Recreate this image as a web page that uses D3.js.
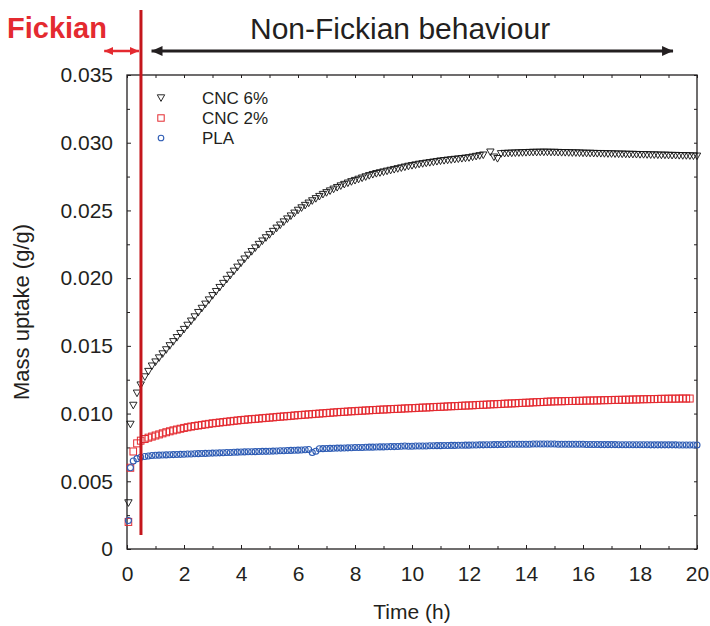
<!DOCTYPE html>
<html>
<head>
<meta charset="utf-8">
<script src="https://cdn.jsdelivr.net/npm/d3@7/dist/d3.min.js"></script>
<style>
  html, body { margin: 0; padding: 0; background: #fff; }
  svg { display: block; font-family: "Liberation Sans", Arial, sans-serif; }
</style>
</head>
<body>
<svg id="chart" width="710" height="626"></svg>
<script>
// Sorption time in hours (one row per hour)
const hours = [
  0.05, 0.12, 0.22, 0.35, 0.48, 0.625, 0.75, 0.875,
  1, 1.125, 1.25, 1.375, 1.5, 1.625, 1.75, 1.875,
  2, 2.125, 2.25, 2.375, 2.5, 2.625, 2.75, 2.875,
  3, 3.125, 3.25, 3.375, 3.5, 3.625, 3.75, 3.875,
  4, 4.125, 4.25, 4.375, 4.5, 4.625, 4.75, 4.875,
  5, 5.125, 5.25, 5.375, 5.5, 5.625, 5.75, 5.875,
  6, 6.125, 6.25, 6.375, 6.5, 6.625, 6.75, 6.875,
  7, 7.125, 7.25, 7.375, 7.5, 7.625, 7.75, 7.875,
  8, 8.125, 8.25, 8.375, 8.5, 8.625, 8.75, 8.875,
  9, 9.125, 9.25, 9.375, 9.5, 9.625, 9.75, 9.875,
  10, 10.125, 10.25, 10.375, 10.5, 10.625, 10.75, 10.875,
  11, 11.125, 11.25, 11.375, 11.5, 11.625, 11.75, 11.875,
  12, 12.125, 12.25, 12.375, 12.5, 12.625, 12.75, 12.875,
  13, 13.125, 13.25, 13.375, 13.5, 13.625, 13.75, 13.875,
  14, 14.125, 14.25, 14.375, 14.5, 14.625, 14.75, 14.875,
  15, 15.125, 15.25, 15.375, 15.5, 15.625, 15.75, 15.875,
  16, 16.125, 16.25, 16.375, 16.5, 16.625, 16.75, 16.875,
  17, 17.125, 17.25, 17.375, 17.5, 17.625, 17.75, 17.875,
  18, 18.125, 18.25, 18.375, 18.5, 18.625, 18.75, 18.875,
  19, 19.125, 19.25, 19.375, 19.5, 19.625, 19.75, 19.875,
  20
];

// Mass uptake (g/g), CNC 6 %
const cnc6 = [
  0.0034, 0.0092, 0.0106, 0.0115, 0.0121, 0.0127, 0.0131, 0.0135,
  0.0138, 0.0141, 0.0144, 0.0147, 0.0150, 0.0153, 0.0156, 0.0159,
  0.0162, 0.01651, 0.01682, 0.01713, 0.01745, 0.01776, 0.01807, 0.01838,
  0.0187, 0.0190, 0.0193, 0.0196, 0.0199, 0.0202, 0.0205, 0.0208,
  0.0211, 0.0214, 0.02168, 0.02195, 0.02222, 0.02248, 0.02273, 0.02297,
  0.0232, 0.02344, 0.02368, 0.02391, 0.02414, 0.02436, 0.02458, 0.02479,
  0.0250, 0.02518, 0.02536, 0.02553, 0.0257, 0.02586, 0.02602, 0.02617,
  0.0263, 0.02643, 0.02656, 0.02668, 0.0268, 0.02691, 0.02701, 0.02711,
  0.0272, 0.02729, 0.02738, 0.02747, 0.02756, 0.02764, 0.02771, 0.02777,
  0.02783, 0.02789, 0.02795, 0.02801, 0.02807, 0.02813, 0.02819, 0.02825,
  0.0283, 0.02835, 0.0284, 0.02844, 0.02848, 0.02852, 0.02856, 0.0286,
  0.02864, 0.02867, 0.0287, 0.02873, 0.02876, 0.02879, 0.02882, 0.02885,
  0.02888, 0.02893, 0.02898, 0.02903, 0.02908, null, 0.0293, 0.02893,
  0.02882, 0.02918, 0.0292, 0.02921, 0.02922, 0.02923, 0.02924, 0.02925,
  0.02926, 0.02927, 0.02928, 0.02928, 0.02929, 0.02929, 0.02929, 0.02928,
  0.02928, 0.02927, 0.02926, 0.02926, 0.02925, 0.02924, 0.02924, 0.02923,
  0.02922, 0.02921, 0.02921, 0.0292, 0.02919, 0.02919, 0.02918, 0.02917,
  0.02917, 0.02916, 0.02915, 0.02915, 0.02914, 0.02913, 0.02913, 0.02912,
  0.02911, 0.02911, 0.0291, 0.02909, 0.02909, 0.02908, 0.02907, 0.02907,
  0.02906, 0.02905, 0.02905, 0.02904, 0.02903, 0.02903, 0.02902, 0.02901,
  0.029
];

// Mass uptake (g/g), CNC 2 %
const cnc2 = [
  0.0020, 0.0060, 0.0072, 0.0078, 0.0080, 0.00812, 0.00822, 0.0083,
  0.00838, 0.00846, 0.00854, 0.00862, 0.00869, 0.00876, 0.00882, 0.00888,
  0.00894, 0.00899, 0.00904, 0.00908, 0.00912, 0.00916, 0.0092, 0.00924,
  0.00928, 0.00931, 0.00934, 0.00937, 0.0094, 0.00943, 0.00946, 0.00949,
  0.00952, 0.00954, 0.00957, 0.00959, 0.00961, 0.00963, 0.00966, 0.00968,
  0.0097, 0.00972, 0.00975, 0.00977, 0.00979, 0.00981, 0.00983, 0.00986,
  0.00988, 0.0099, 0.00992, 0.00994, 0.00996, 0.00998, 0.01, 0.01002,
  0.01004, 0.01006, 0.01008, 0.0101, 0.01012, 0.01013, 0.01015, 0.01017,
  0.01018, 0.0102, 0.01021, 0.01023, 0.01024, 0.01026, 0.01027, 0.01029,
  0.0103, 0.01031, 0.01033, 0.01034, 0.01035, 0.01036, 0.01038, 0.01039,
  0.0104, 0.01041, 0.01043, 0.01044, 0.01045, 0.01046, 0.01048, 0.01049,
  0.0105, 0.01051, 0.01053, 0.01054, 0.01055, 0.01056, 0.01058, 0.01059,
  0.0106, 0.01061, 0.01063, 0.01064, 0.01065, 0.01066, 0.01068, 0.01069,
  0.0107, 0.01071, 0.01073, 0.01074, 0.01075, 0.01076, 0.01078, 0.01079,
  0.0108, 0.01081, 0.01083, 0.01084, 0.01085, 0.01086, 0.01088, 0.01089,
  0.0109, 0.01091, 0.01091, 0.01092, 0.01093, 0.01093, 0.01094, 0.01094,
  0.01095, 0.01096, 0.01096, 0.01097, 0.01097, 0.01098, 0.01099, 0.01099,
  0.011, 0.01101, 0.01101, 0.01102, 0.01102, 0.01103, 0.01104, 0.01104,
  0.01105, 0.01106, 0.01106, 0.01107, 0.01107, 0.01108, 0.01109, 0.01109,
  0.0111, 0.0111, 0.0111, 0.01111, 0.01111, 0.01111, 0.01111, null,
  null
];

// Mass uptake (g/g), neat PLA
const pla = [
  0.0021, 0.0060, 0.0065, 0.00667, 0.00677, 0.00683, 0.00687, 0.0069,
  0.00692, 0.00693, 0.00694, 0.00695, 0.00696, 0.00697, 0.00698, 0.00699,
  0.007, 0.00701, 0.00702, 0.00703, 0.00704, 0.00705, 0.00706, 0.00707,
  0.00708, 0.00709, 0.0071, 0.00711, 0.00712, 0.00713, 0.00714, 0.00715,
  0.00716, 0.00717, 0.00718, 0.00718, 0.00719, 0.0072, 0.00721, 0.00721,
  0.00722, 0.00723, 0.00724, 0.00725, 0.00726, 0.00727, 0.00728, 0.00729,
  0.0073, 0.00731, 0.00733, 0.00735, 0.00712, 0.00722, 0.0074, 0.00741,
  0.00742, 0.00743, 0.00744, 0.00745, 0.00745, 0.00746, 0.00747, 0.00748,
  0.00749, 0.0075, 0.0075, 0.00751, 0.00752, 0.00752, 0.00753, 0.00754,
  0.00754, 0.00755, 0.00756, 0.00756, 0.00757, 0.00759, 0.0076, 0.00759,
  0.00759, 0.0076, 0.0076, 0.00761, 0.00761, 0.00762, 0.00762, 0.00763,
  0.00763, 0.00764, 0.00764, 0.00765, 0.00765, 0.00766, 0.00766, 0.00767,
  0.00767, 0.00768, 0.00768, 0.00769, 0.00769, 0.0077, 0.0077, 0.00771,
  0.00771, 0.00772, 0.00772, 0.00773, 0.00773, 0.00773, 0.00774, 0.00774,
  0.00774, 0.00774, 0.00775, 0.00775, 0.00775, 0.00775, 0.00775, 0.00775,
  0.00775, 0.00774, 0.00774, 0.00774, 0.00774, 0.00773, 0.00773, 0.00773,
  0.00773, 0.00772, 0.00772, 0.00772, 0.00772, 0.00771, 0.00771, 0.00771,
  0.00771, 0.00771, 0.0077, 0.0077, 0.0077, 0.0077, 0.0077, 0.0077,
  0.0077, 0.0077, 0.0077, 0.00769, 0.00769, 0.00769, 0.00769, 0.00769,
  0.00769, 0.00769, 0.00769, 0.00768, 0.00768, 0.00768, 0.00768, 0.00768,
  0.00768
];

const seriesNames = ["CNC 6%", "CNC 2%", "PLA"];
const xTicks = [0, 2, 4, 6, 8, 10, 12, 14, 16, 18, 20];
const xTickLabels = ["0", "2", "4", "6", "8", "10", "12", "14", "16", "18", "20"];
const xMinorTicks = [1, 3, 5, 7, 9, 11, 13, 15, 17, 19];
const yTicks = [0, 0.005, 0.01, 0.015, 0.02, 0.025, 0.03, 0.035];
const yTickLabels = ["0", "0.005", "0.010", "0.015", "0.020", "0.025", "0.030", "0.035"];
const yMinorTicks = [0.0025, 0.0075, 0.0125, 0.0175, 0.0225, 0.0275, 0.0325];
const fickianEnd = 0.49;           // end of the Fickian regime (h)
const fickianArrow = [-0.8, 0.42]; // extent of the Fickian arrow (h)
const nonFickianArrow = [0.86, 19.16];

const svg = d3.select("#chart");
const M = { left: 127, right: 697, top: 75, bottom: 549 };

const x = d3.scaleLinear().domain([0, 20]).range([M.left, M.right]);
const y = d3.scaleLinear().domain([0, 0.035]).range([M.bottom, M.top]);

const inkDark = "#231f20";
const red = "#e42a30";
const blue = "#2e5cb4";

// Axes with inward ticks on all four sides
const tickFont = g => g.selectAll("text")
  .attr("font-family", "Liberation Sans, Arial, sans-serif")
  .attr("font-size", 21).attr("fill", inkDark);
const noDomain = g => g.select(".domain").remove();

svg.append("g").attr("transform", `translate(0,${M.bottom})`)
  .call(d3.axisBottom(x).tickValues(xTicks).tickFormat((d, i) => xTickLabels[i])
    .tickSizeInner(-4).tickSizeOuter(0).tickPadding(17))
  .call(noDomain).call(tickFont)
  .call(g => g.selectAll("line").attr("stroke", inkDark));
svg.append("g").attr("transform", `translate(0,${M.bottom})`)
  .call(d3.axisBottom(x).tickValues(xMinorTicks).tickFormat("").tickSizeInner(-3).tickSizeOuter(0))
  .call(noDomain).call(g => g.selectAll("line").attr("stroke", inkDark));
svg.append("g").attr("transform", `translate(0,${M.top})`)
  .call(d3.axisTop(x).tickValues(xTicks.concat(xMinorTicks)).tickFormat("").tickSizeInner(-3).tickSizeOuter(0))
  .call(noDomain).call(g => g.selectAll("line").attr("stroke", inkDark));

svg.append("g").attr("transform", `translate(${M.left},0)`)
  .call(d3.axisLeft(y).tickValues(yTicks).tickFormat((d, i) => yTickLabels[i])
    .tickSizeInner(-4).tickSizeOuter(0).tickPadding(14))
  .call(noDomain).call(tickFont)
  .call(g => g.selectAll("line").attr("stroke", inkDark));
svg.append("g").attr("transform", `translate(${M.left},0)`)
  .call(d3.axisLeft(y).tickValues(yMinorTicks).tickFormat("").tickSizeInner(-3).tickSizeOuter(0))
  .call(noDomain).call(g => g.selectAll("line").attr("stroke", inkDark));
svg.append("g").attr("transform", `translate(${M.right},0)`)
  .call(d3.axisRight(y).tickValues(yTicks.concat(yMinorTicks)).tickFormat("").tickSizeInner(-3).tickSizeOuter(0))
  .call(noDomain).call(g => g.selectAll("line").attr("stroke", inkDark));

// Plot frame
svg.append("rect")
  .attr("x", M.left).attr("y", M.top)
  .attr("width", M.right - M.left).attr("height", M.bottom - M.top)
  .attr("fill", "none").attr("stroke", inkDark).attr("stroke-width", 1.3);

// Axis titles
svg.append("text").attr("x", (M.left + M.right) / 2).attr("y", 619)
  .attr("text-anchor", "middle").attr("font-size", 21).attr("fill", inkDark)
  .text("Time (h)");
svg.append("text")
  .attr("transform", `translate(29,${(M.top + M.bottom) / 2}) rotate(-90)`)
  .attr("text-anchor", "middle").attr("font-size", 22).attr("fill", inkDark)
  .text("Mass uptake (g/g)");

// Markers
const triPath = "M-3.7,-3.2L3.7,-3.2L0,3.4Z";
function pts(vals) {
  return hours.map((t, i) => ({ t, v: vals[i] })).filter(d => d.v != null);
}

svg.append("g").selectAll("rect").data(pts(cnc2)).join("rect")
  .attr("x", d => x(d.t) - 3.3).attr("y", d => y(d.v) - 3.5)
  .attr("width", 6.6).attr("height", 7)
  .attr("fill", "none").attr("stroke", red).attr("stroke-width", 1);

svg.append("g").selectAll("circle").data(pts(pla)).join("circle")
  .attr("cx", d => x(d.t)).attr("cy", d => y(d.v)).attr("r", 3)
  .attr("fill", "none").attr("stroke", blue).attr("stroke-width", 1.1);

svg.append("g").selectAll("path").data(pts(cnc6)).join("path")
  .attr("transform", d => `translate(${x(d.t)},${y(d.v)})`)
  .attr("d", triPath)
  .attr("fill", "none").attr("stroke", "#111").attr("stroke-width", 0.9);

// Legend
const legend = svg.append("g");
const legendRows = [
  { name: seriesNames[0], kind: "tri" },
  { name: seriesNames[1], kind: "sq" },
  { name: seriesNames[2], kind: "circ" }
];
legendRows.forEach((r, i) => {
  const cy = 98 + i * 20, cx = 161;
  if (r.kind === "tri") {
    legend.append("path").attr("transform", `translate(${cx},${cy})`).attr("d", triPath)
      .attr("fill", "none").attr("stroke", "#111").attr("stroke-width", 0.9);
  } else if (r.kind === "sq") {
    legend.append("rect").attr("x", cx - 3.2).attr("y", cy - 3.2).attr("width", 6.4).attr("height", 6.4)
      .attr("fill", "none").attr("stroke", red).attr("stroke-width", 1);
  } else {
    legend.append("circle").attr("cx", cx).attr("cy", cy).attr("r", 2.8)
      .attr("fill", "none").attr("stroke", blue).attr("stroke-width", 1.1);
  }
  legend.append("text").attr("x", 202).attr("y", cy + 6)
    .attr("font-size", 17).attr("fill", inkDark).text(r.name);
});

// Regime annotations
const defs = svg.append("defs");
function arrowHead(id, color, w, h) {
  defs.append("marker").attr("id", id)
    .attr("viewBox", `0 0 ${w} ${h}`).attr("refX", w).attr("refY", h / 2)
    .attr("markerWidth", w).attr("markerHeight", h)
    .attr("markerUnits", "userSpaceOnUse").attr("orient", "auto-start-reverse")
    .append("path").attr("d", `M0,0L${w},${h / 2}L0,${h}Z`).attr("fill", color);
}
arrowHead("headRed", red, 9, 8);
arrowHead("headBlack", inkDark, 11, 10);

const arrowY = 51;
svg.append("line")
  .attr("x1", x(fickianArrow[0])).attr("x2", x(fickianArrow[1]))
  .attr("y1", arrowY).attr("y2", arrowY)
  .attr("stroke", red).attr("stroke-width", 2.6)
  .attr("marker-start", "url(#headRed)").attr("marker-end", "url(#headRed)");
svg.append("line")
  .attr("x1", x(nonFickianArrow[0])).attr("x2", x(nonFickianArrow[1]))
  .attr("y1", arrowY).attr("y2", arrowY)
  .attr("stroke", inkDark).attr("stroke-width", 3)
  .attr("marker-start", "url(#headBlack)").attr("marker-end", "url(#headBlack)");

svg.append("line")
  .attr("x1", x(fickianEnd)).attr("x2", x(fickianEnd))
  .attr("y1", 10).attr("y2", 535)
  .attr("stroke", "#c4161c").attr("stroke-width", 3);

svg.append("text").attr("x", 7).attr("y", 38)
  .attr("font-size", 29).attr("font-weight", "bold").attr("fill", red)
  .text("Fickian");
svg.append("text").attr("x", 250).attr("y", 39)
  .attr("font-size", 30).attr("fill", inkDark)
  .text("Non-Fickian behaviour");
</script>
</body>
</html>
